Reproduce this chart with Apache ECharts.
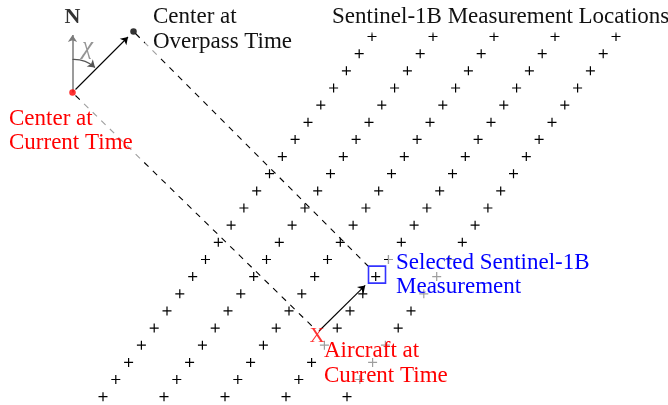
<!DOCTYPE html>
<html>
<head>
<meta charset="utf-8">
<script src="https://cdn.jsdelivr.net/npm/echarts@6/dist/echarts.min.js"></script>
<style>
  html, body { margin: 0; padding: 0; background: #ffffff; }
  #chart { width: 668px; height: 405px; }
</style>
</head>
<body>
<div id="chart"></div>
<script>
// Local plane coordinates (x to the east, y downward), one unit per pixel.

// Along-track rows of the Sentinel-1B measurement grid (shared by all tracks)
const rowY = [36.5, 53.7, 70.8, 88.0, 105.1, 122.3, 139.4, 156.6, 173.7, 190.9, 208.0,
              225.2, 242.3, 259.5, 276.6, 293.8, 310.9, 328.1, 345.2, 362.4, 379.5, 396.7];

// Cross-track position of each measurement, one list per swath track
const track1X = [372.0, 359.2, 346.4, 333.6, 320.8, 308.0, 295.1, 282.3, 269.5, 256.7, 243.9,
                 231.1, 218.3, 205.5, 192.7, 179.8, 167.0, 154.2, 141.4, 128.6, 115.8, 103.0];
const track2X = [433.0, 420.2, 407.4, 394.6, 381.8, 369.0, 356.1, 343.3, 330.5, 317.7, 304.9,
                 292.1, 279.3, 266.5, 253.7, 240.8, 228.0, 215.2, 202.4, 189.6, 176.8, 164.0];
const track3X = [494.0, 481.2, 468.4, 455.6, 442.8, 430.0, 417.1, 404.3, 391.5, 378.7, 365.9,
                 353.1, 340.3, 327.5, 314.7, 301.8, 289.0, 276.2, 263.4, 250.6, 237.8, 225.0];
const track4X = [555.0, 542.2, 529.4, 516.6, 503.8, 491.0, 478.1, 465.3, 452.5, 439.7, 426.9,
                 414.1, 401.3, 388.5, 375.7, 362.8, 350.0, 337.2, 324.4, 311.6, 298.8, 286.0];
const track5X = [616.0, 603.2, 590.4, 577.6, 564.8, 552.0, 539.1, 526.3, 513.5, 500.7, 487.9,
                 475.1, 462.3, 449.5, 436.7, 423.8, 411.0, 398.2, 385.4, 372.6, 359.8, 347.0];

// Key locations
const centerNow = [72.5, 92.5];
const centerOverpass = [133.5, 31.5];
const aircraftNow = [318, 332];
const selectedMeasurement = [375.7, 276.6];

// Arrows and construction lines
const northArrow = [[72.5, 92.5], [72.5, 35.0]];
const headingArrow = [[75.5, 89.5], [128.0, 37.0]];
const chiArc = [[72.5, 59.5], [95.0, 67.5]];
const overpassLine = [[135.5, 33.5], [368.0, 266.0]];
const currentLine = [[75.5, 95.5], [315.5, 329.5]];
const aircraftArrow = [[319.0, 331.0], [365.2, 285.4]];

const serif = 'Liberation Serif';

const tracks = [track1X, track2X, track3X, track4X, track5X];
const measurements = [];
tracks.forEach(xs => xs.forEach((x, i) => measurements.push([x, rowY[i]])));

const chart = echarts.init(document.getElementById('chart'), null, { renderer: 'canvas' });

const labelBox = (x, y, text, color) => ({
  type: 'text',
  x: x,
  y: y,
  z: 100,
  silent: true,
  style: {
    text: text,
    fontFamily: serif,
    fontSize: 23,
    fill: color,
    lineHeight: 24.5,
    backgroundColor: 'rgba(255,255,255,0.62)',
    padding: [4, 8]
  }
});

chart.setOption({
  animation: false,
  backgroundColor: '#ffffff',
  grid: { left: 0, right: 0, top: 0, bottom: 0 },
  xAxis: { type: 'value', min: 0, max: 668, show: false },
  yAxis: { type: 'value', min: 0, max: 405, inverse: true, show: false },
  graphic: [
    labelBox(324, 1, 'Sentinel-1B Measurement Locations', '#111111'),
    labelBox(145, 1, 'Center at\nOverpass Time', '#111111'),
    labelBox(1, 102.7, 'Center at\nCurrent Time', '#ff0000'),
    labelBox(388, 246.7, 'Selected Sentinel-1B\nMeasurement', '#0000ff'),
    labelBox(316, 335, 'Aircraft at\nCurrent Time', '#ff0000')
  ],
  series: [
    {
      name: 'Measurements',
      type: 'scatter',
      silent: true,
      z: 2,
      symbol: 'path://M4,0V8M0,4H8',
      symbolSize: 9,
      itemStyle: { color: 'rgba(0,0,0,0)', borderColor: '#000000', borderWidth: 1.2, opacity: 1 },
      data: measurements
    },
    {
      name: 'Construction lines',
      type: 'lines',
      coordinateSystem: 'cartesian2d',
      silent: true,
      z: 3,
      symbol: ['none', 'none'],
      lineStyle: { color: '#000000', width: 1.1, type: [6, 6], opacity: 1 },
      data: [{ coords: overpassLine }, { coords: currentLine }]
    },
    {
      name: 'North',
      type: 'lines',
      coordinateSystem: 'cartesian2d',
      silent: true,
      z: 4,
      symbol: ['none', 'arrow'],
      symbolSize: 7,
      lineStyle: { color: '#7a7a7a', width: 1.5, opacity: 1 },
      data: [{ coords: northArrow }]
    },
    {
      name: 'Heading angle',
      type: 'lines',
      coordinateSystem: 'cartesian2d',
      silent: true,
      z: 4,
      symbol: ['none', 'arrow'],
      symbolSize: 7,
      lineStyle: { color: '#555555', width: 1.2, opacity: 1, curveness: 0.2 },
      data: [{ coords: chiArc }]
    },
    {
      name: 'Heading',
      type: 'lines',
      coordinateSystem: 'cartesian2d',
      silent: true,
      z: 4,
      symbol: ['none', 'arrow'],
      symbolSize: 7,
      lineStyle: { color: '#000000', width: 1.1, opacity: 1 },
      data: [{ coords: headingArrow }, { coords: aircraftArrow }]
    },
    {
      name: 'Selected box',
      type: 'scatter',
      silent: true,
      z: 120,
      symbol: 'rect',
      symbolSize: 17,
      symbolOffset: [1.3, -2],
      itemStyle: { color: 'rgba(0,0,0,0)', borderColor: '#0000ff', borderWidth: 1.6 },
      data: [selectedMeasurement]
    },
    {
      name: 'Centers',
      type: 'scatter',
      silent: true,
      z: 120,
      symbol: 'circle',
      symbolSize: 6.5,
      data: [
        { value: centerNow, itemStyle: { color: '#ff0000' } },
        { value: centerOverpass, itemStyle: { color: '#000000' } }
      ]
    },
    {
      name: 'Aircraft',
      type: 'scatter',
      silent: true,
      z: 120,
      symbolSize: 0,
      label: {
        show: true,
        position: 'inside',
        offset: [-1, 4],
        formatter: 'X',
        fontFamily: serif,
        fontSize: 21,
        color: '#ff0000'
      },
      data: [aircraftNow]
    },
    {
      name: 'Compass text',
      type: 'scatter',
      silent: true,
      z: 120,
      symbolSize: 0,
      label: {
        show: true,
        position: 'inside',
        fontFamily: serif,
        formatter: p => p.name
      },
      data: [
        { name: 'N', value: [72.5, 17.5], label: { fontSize: 22, fontWeight: 'bold', color: '#000000' } },
        { name: 'χ', value: [87.5, 47], label: { fontSize: 25, fontStyle: 'italic', color: '#7a7a7a' } }
      ]
    }
  ]
});
</script>
</body>
</html>
